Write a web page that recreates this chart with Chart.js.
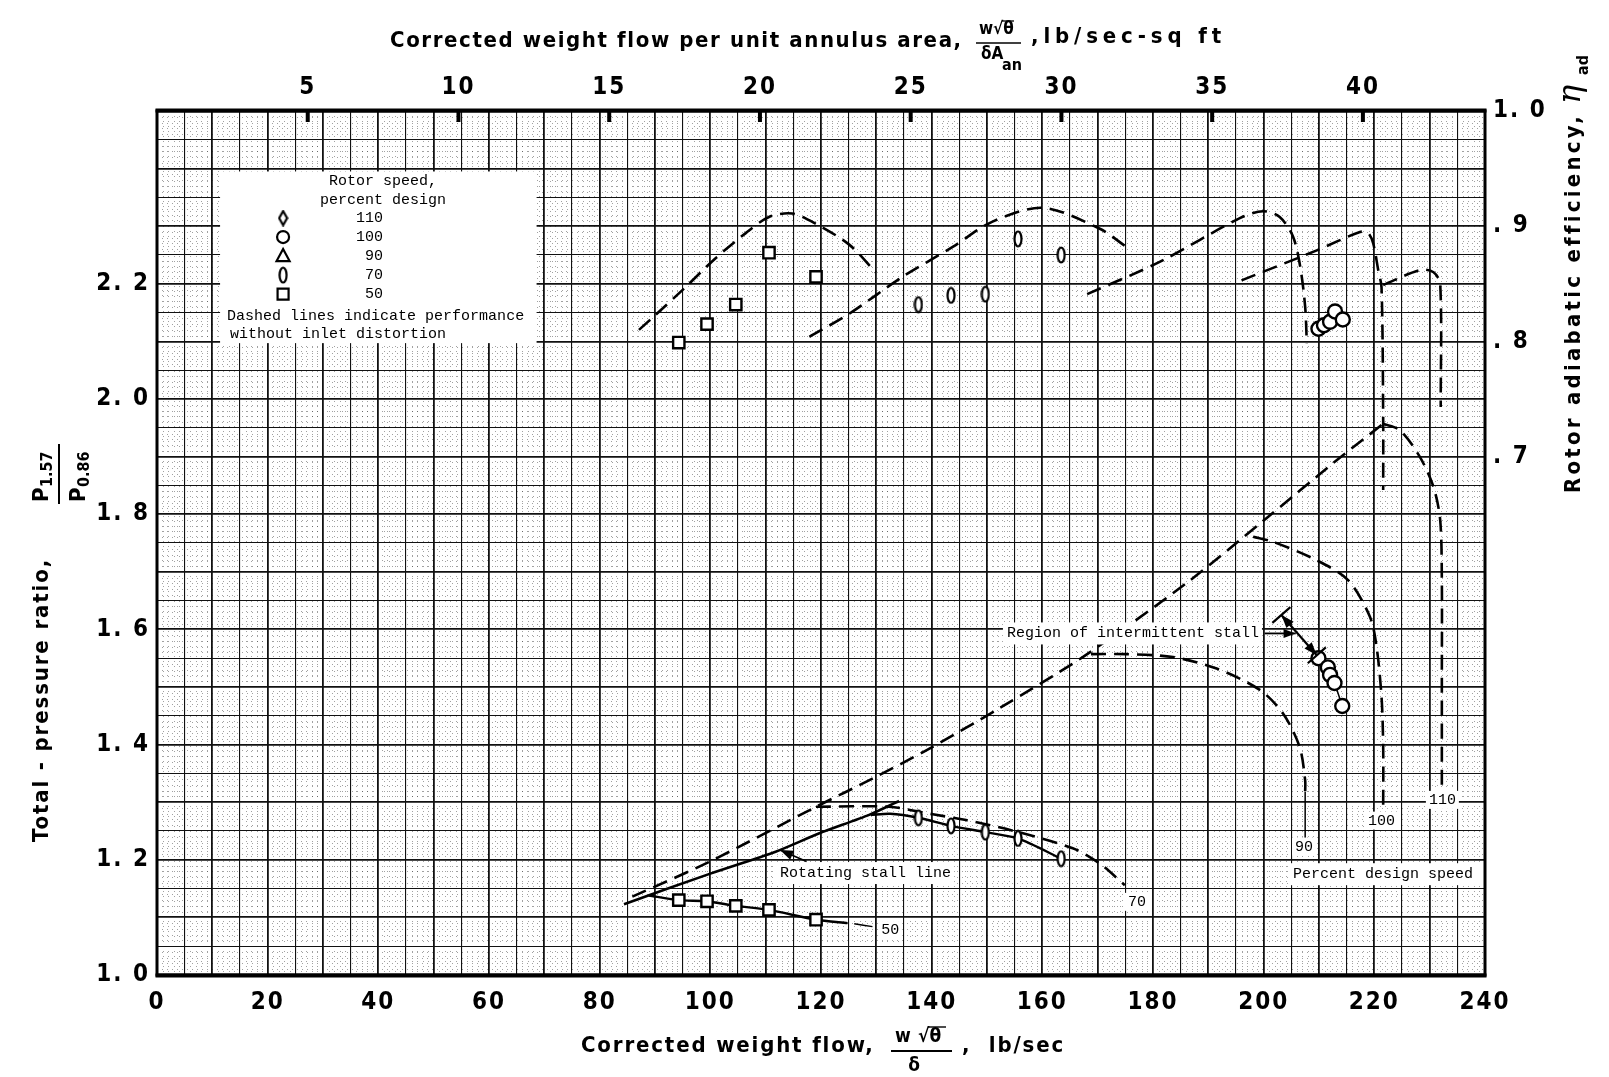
<!DOCTYPE html>
<html>
<head>
<meta charset="utf-8">
<title>Rotor performance with inlet distortion</title>
<script src="https://cdn.jsdelivr.net/npm/chart.js@4.4.1/dist/chart.umd.min.js"></script>
<style>
  html, body { margin: 0; padding: 0; background: #fff; }
  canvas { display: block; }
</style>
</head>
<body>
<canvas id="perf" width="1609" height="1077"></canvas>
<script>
// tick labels
const flowTicks = [0, 20, 40, 60, 80, 100, 120, 140, 160, 180, 200, 220, 240];
const ratioTicks = [1.0, 1.2, 1.4, 1.6, 1.8, 2.0, 2.2];
const effTicks = [0.7, 0.8, 0.9, 1.0];
const areaFlowTicks = [5, 10, 15, 20, 25, 30, 35, 40];
const areaFlowMax = 44.05; // upper scale value at 240 lb/sec

// 50 percent speed (with distortion)
const flow50 = [94.3, 99.4, 104.6, 110.6, 119.1];
const ratio50 = [1.130, 1.128, 1.120, 1.113, 1.096];
const eff50 = [0.799, 0.815, 0.832, 0.877, 0.856];
const line50Flow = [88.9, 94.3, 99.4, 104.6, 110.6, 119.1, 124.8];
const line50Ratio = [1.138, 1.130, 1.128, 1.120, 1.113, 1.096, 1.090];

// 70 percent speed
const flow70 = [137.6, 143.5, 149.7, 155.6, 163.4];
const ratio70 = [1.273, 1.259, 1.248, 1.237, 1.202];
const eff70 = [0.832, 0.840, 0.841, 0.889, 0.875];
const line70Flow = [129.0, 132.5, 137.6, 143.5, 149.7, 155.6, 163.4];
const line70Ratio = [1.278, 1.280, 1.273, 1.259, 1.248, 1.237, 1.202];

// 100 percent speed
const flow100 = [209.9, 211.6, 212.0, 212.8, 214.2];
const ratio100 = [1.550, 1.534, 1.521, 1.507, 1.467];
const flow100Eff = [209.9, 210.9, 212.0, 212.9, 214.3];
const eff100 = [0.811, 0.814, 0.817, 0.826, 0.819];

// rotating stall line
const stallFlow = [84.4, 100.0, 111.8, 119.7, 128.7, 134.1];
const stallRatio = [1.123, 1.176, 1.214, 1.246, 1.278, 1.302];

// dashed: without inlet distortion, pressure ratio
const cleanStallFlow = [85.9, 99.7, 119.1, 129.3, 139.6, 152.2, 167.3, 186.0, 200.5, 212.6, 221.6];
const cleanStallRatio = [1.136, 1.196, 1.292, 1.341, 1.393, 1.463, 1.552, 1.680, 1.793, 1.889, 1.957];
const clean70Flow = [119.1, 132.3, 140.2, 146.2, 155.3, 165.5, 170.3, 174.9];
const clean70Ratio = [1.292, 1.292, 1.279, 1.269, 1.249, 1.220, 1.194, 1.156];
const clean90Flow = [168.8, 175.2, 183.6, 191.5, 199.3, 203.5, 206.5, 207.5, 207.5];
const clean90Ratio = [1.557, 1.557, 1.552, 1.532, 1.495, 1.454, 1.396, 1.338, 1.318];
const clean100Flow = [198.1, 201.7, 209.6, 215.3, 219.2, 220.4, 221.3, 221.6, 221.6];
const clean100Ratio = [1.761, 1.752, 1.720, 1.685, 1.622, 1.570, 1.483, 1.396, 1.290];
const clean110Flow = [221.6, 224.6, 228.2, 230.7, 231.9, 232.2, 232.2, 232.2];
const clean110Ratio = [1.957, 1.946, 1.900, 1.847, 1.790, 1.685, 1.512, 1.322];

// dashed: without inlet distortion, efficiency
const cleanEff50Flow = [87.1, 90.1, 95.5, 100.9, 106.4, 110.6, 114.8, 119.1, 125.1, 129.9];
const cleanEff50 = [0.810, 0.823, 0.847, 0.872, 0.894, 0.908, 0.911, 0.902, 0.884, 0.860];
const cleanEff70Flow = [117.9, 125.1, 134.7, 143.8, 151.0, 160.1, 170.3, 175.2];
const cleanEff70 = [0.804, 0.824, 0.856, 0.882, 0.904, 0.916, 0.898, 0.882];
const cleanEff90Flow = [168.1, 181.2, 195.7, 199.9, 202.9, 205.3, 206.6, 207.5, 207.8];
const cleanEff90 = [0.841, 0.869, 0.907, 0.913, 0.908, 0.891, 0.865, 0.830, 0.798];
const cleanEff100Flow = [196.0, 209.6, 217.4, 218.9, 219.8, 220.7, 221.3, 221.6, 221.6];
const cleanEff100 = [0.853, 0.879, 0.895, 0.894, 0.885, 0.862, 0.847, 0.732, 0.671];
const cleanEff110Flow = [221.6, 228.3, 230.7, 231.9, 232.0];
const cleanEff110 = [0.849, 0.862, 0.860, 0.850, 0.743];

// leader lines to the speed labels
const leader50Flow = [126.0, 129.3];
const leader50Ratio = [1.089, 1.084];
const leader90Flow = [207.5, 207.5];
const leader90Ratio = [1.318, 1.238];

// speed labels on the curves
const curveLabels = ['50', '70', '90', '100', '110'];
const curveLabelFlow = [132.5, 177.1, 207.3, 221.3, 232.3];
const curveLabelRatio = [1.078, 1.127, 1.223, 1.268, 1.304];

// notes
const noteText = ['Rotating stall line', 'Region of intermittent stall', 'Percent design speed'];
const noteFlow = [112.6, 153.6, 205.3];
const noteRatio = [1.177, 1.593, 1.175];
const stallArrowFlow = [117.4, 112.6];
const stallArrowRatio = [1.197, 1.217];
const noteArrowFlow = [200.2, 205.8];
const noteArrowRatio = [1.593, 1.593];
const spanFlow = [203.2, 209.6];
const spanRatio = [1.625, 1.555];

// legend
const legendSpeeds = ['110', '100', '90', '70', '50'];
const legendBoxFlow = [11.4, 68.6];
const legendBoxRatio = [2.395, 2.097];

const tickFont = '"Liberation Sans Narrow", "DejaVu Sans Condensed", "DejaVu Sans", sans-serif';
const monoFont = '"Liberation Mono", "DejaVu Sans Mono", monospace';
const titleFont = 'bold 22px ' + tickFont;

const pts = (xs, ys) => xs.map((x, i) => ({ x: x, y: ys[i] }));

function makeMarker(draw, w, h) {
    const c = document.createElement('canvas');
    c.width = w; c.height = h;
    const g = c.getContext('2d');
    g.strokeStyle = '#000'; g.fillStyle = '#fff'; g.lineWidth = 2.2;
    draw(g, w, h);
    return c;
}
const ellipseMark = makeMarker((g, w, h) => {
    g.beginPath(); g.ellipse(w / 2, h / 2, w / 2 - 1.5, h / 2 - 1.5, 0, 0, 2 * Math.PI); g.fill(); g.stroke();
}, 10, 18);
const diamondMark = makeMarker((g, w, h) => {
    g.beginPath(); g.moveTo(w / 2, 1.5); g.lineTo(w - 1.5, h / 2); g.lineTo(w / 2, h - 1.5); g.lineTo(1.5, h / 2);
    g.closePath(); g.fill(); g.stroke();
}, 11, 17);

function dashed(xs, ys, axis) {
    return { data: pts(xs, ys), yAxisID: axis, showLine: true, borderColor: '#000', borderWidth: 2.6,
        borderDash: [15, 8], pointRadius: 0, tension: 0.3, order: 2 };
}
function solid(xs, ys, w) {
    return { data: pts(xs, ys), yAxisID: 'y', showLine: true, borderColor: '#000', borderWidth: w || 2.4,
        pointRadius: 0, tension: 0.25, order: 2 };
}
function marks(xs, ys, axis, style, r) {
    return { data: pts(xs, ys), yAxisID: axis, showLine: false, pointStyle: style, pointRadius: r,
        pointBackgroundColor: '#fff', pointBorderColor: '#000', pointBorderWidth: 2.4, order: 1 };
}

function fitText(ctx, text, x, y, width, font) {
    ctx.font = font;
    ctx.letterSpacing = '0px';
    const w = ctx.measureText(text).width;
    ctx.letterSpacing = ((width - w) / text.length) + 'px';
    ctx.textAlign = 'left';
    ctx.fillText(text, x, y);
    ctx.letterSpacing = '0px';
}

function arrowHead(ctx, x1, y1, x2, y2, size) {
    const a = Math.atan2(y2 - y1, x2 - x1);
    ctx.beginPath();
    ctx.moveTo(x2, y2);
    ctx.lineTo(x2 - size * Math.cos(a - 0.35), y2 - size * Math.sin(a - 0.35));
    ctx.lineTo(x2 - size * Math.cos(a + 0.35), y2 - size * Math.sin(a + 0.35));
    ctx.closePath();
    ctx.fill();
}

function symbol(ctx, kind, x, y) {
    ctx.save();
    ctx.fillStyle = '#fff'; ctx.strokeStyle = '#000'; ctx.lineWidth = 2.2;
    ctx.beginPath();
    if (kind === '110') { ctx.drawImage(diamondMark, x - 5.5, y - 8.5); ctx.restore(); return; }
    if (kind === '70') { ctx.drawImage(ellipseMark, x - 5, y - 9); ctx.restore(); return; }
    if (kind === '100') ctx.arc(x, y, 6, 0, 2 * Math.PI);
    if (kind === '90') { ctx.moveTo(x, y - 7); ctx.lineTo(x + 6.5, y + 5); ctx.lineTo(x - 6.5, y + 5); ctx.closePath(); }
    if (kind === '50') ctx.rect(x - 5.5, y - 5.5, 11, 11);
    ctx.fill(); ctx.stroke();
    ctx.restore();
}

const paper = {
    id: 'paper',
    beforeDraw(chart) {
        const { ctx, chartArea: a, scales } = chart;
        ctx.save();
        ctx.fillStyle = '#fff';
        ctx.fillRect(0, 0, chart.width, chart.height);
        // fine dotted ruling of the graph paper
        ctx.strokeStyle = 'rgba(30,30,30,0.42)';
        ctx.lineWidth = 1;
        ctx.setLineDash([1, 4]);
        ctx.beginPath();
        for (let v = 1; v < 240; v++) {
            if (v % 5 === 0) continue;
            const x = Math.round(scales.x.getPixelForValue(v)) + 0.5;
            ctx.moveTo(x, a.top); ctx.lineTo(x, a.bottom);
        }
        for (let k = 101; k < 250; k++) {
            if (k % 5 === 0) continue;
            const y = Math.round(scales.y.getPixelForValue(k / 100)) + 0.5;
            ctx.moveTo(a.left, y); ctx.lineTo(a.right, y);
        }
        ctx.stroke();
        ctx.restore();
        ctx.letterSpacing = '2px';
    },
    beforeDatasetsDraw(chart) {
        const { ctx, scales: { x, y } } = chart;
        const L = x.getPixelForValue(legendBoxFlow[0]), R = x.getPixelForValue(legendBoxFlow[1]);
        const T = y.getPixelForValue(legendBoxRatio[0]), B = y.getPixelForValue(legendBoxRatio[1]);
        ctx.save();
        ctx.letterSpacing = '0px';
        ctx.fillStyle = '#fff';
        ctx.fillRect(L, T, R - L, B - T);
        ctx.fillStyle = '#000';
        ctx.font = '15px ' + monoFont;
        ctx.textBaseline = 'middle';
        ctx.textAlign = 'center';
        ctx.fillText('Rotor speed,', L + 163, T + 10);
        ctx.fillText('percent design', L + 163, T + 29);
        legendSpeeds.forEach((s, i) => {
            const yy = T + 46.6 + i * 19;
            symbol(ctx, s, L + 63, yy);
            ctx.fillStyle = '#000';
            ctx.textAlign = 'right';
            ctx.fillText(s, L + 163, yy);
        });
        ctx.textAlign = 'left';
        ctx.fillText('Dashed lines indicate performance', L + 7, T + 145);
        ctx.fillText('without inlet distortion', L + 10, T + 163);
        ctx.restore();
    },
    afterDatasetsDraw(chart) {
        const { ctx, chartArea: a, scales: { x, y, x2 } } = chart;
        ctx.save();
        ctx.letterSpacing = '0px';
        ctx.font = '15px ' + monoFont;
        ctx.textBaseline = 'middle';

        // speed labels
        ctx.textAlign = 'center';
        curveLabels.forEach((s, i) => {
            const px = x.getPixelForValue(curveLabelFlow[i]), py = y.getPixelForValue(curveLabelRatio[i]);
            const w = ctx.measureText(s).width;
            ctx.fillStyle = '#fff';
            ctx.fillRect(px - w / 2 - 3, py - 9, w + 6, 18);
            ctx.fillStyle = '#000';
            ctx.fillText(s, px, py);
        });

        // notes
        ctx.textAlign = 'left';
        noteText.forEach((s, i) => {
            const px = x.getPixelForValue(noteFlow[i]), py = y.getPixelForValue(noteRatio[i]);
            const w = i === 2 ? a.right - px - 1 : ctx.measureText(s).width + 3;
            ctx.fillStyle = '#fff';
            ctx.fillRect(px - 4, py - 11, w + 4, 22);
            ctx.fillStyle = '#000';
            ctx.fillText(s, px, py);
        });

        // arrows
        ctx.strokeStyle = '#000';
        ctx.fillStyle = '#000';
        ctx.lineWidth = 1.8;
        const ax1 = x.getPixelForValue(stallArrowFlow[0]), ay1 = y.getPixelForValue(stallArrowRatio[0]);
        const ax2 = x.getPixelForValue(stallArrowFlow[1]), ay2 = y.getPixelForValue(stallArrowRatio[1]);
        ctx.beginPath(); ctx.moveTo(ax1, ay1); ctx.lineTo(ax2, ay2); ctx.stroke();
        arrowHead(ctx, ax1, ay1, ax2, ay2, 14);

        const bx1 = x.getPixelForValue(noteArrowFlow[0]), by1 = y.getPixelForValue(noteArrowRatio[0]);
        const bx2 = x.getPixelForValue(noteArrowFlow[1]), by2 = y.getPixelForValue(noteArrowRatio[1]);
        ctx.beginPath(); ctx.moveTo(bx1, by1); ctx.lineTo(bx2, by2); ctx.stroke();
        arrowHead(ctx, bx1, by1, bx2, by2, 13);

        const sx1 = x.getPixelForValue(spanFlow[0]), sy1 = y.getPixelForValue(spanRatio[0]);
        const sx2 = x.getPixelForValue(spanFlow[1]), sy2 = y.getPixelForValue(spanRatio[1]);
        ctx.lineWidth = 2.2;
        ctx.beginPath(); ctx.moveTo(sx1, sy1); ctx.lineTo(sx2, sy2); ctx.stroke();
        arrowHead(ctx, sx2, sy2, sx1, sy1, 14);
        arrowHead(ctx, sx1, sy1, sx2, sy2, 14);
        const ang = Math.atan2(sy2 - sy1, sx2 - sx1) + Math.PI / 2;
        [[sx1, sy1], [sx2, sy2]].forEach(([px, py]) => {
            ctx.beginPath();
            ctx.moveTo(px - 12 * Math.cos(ang), py - 12 * Math.sin(ang));
            ctx.lineTo(px + 12 * Math.cos(ang), py + 12 * Math.sin(ang));
            ctx.stroke();
        });

        // frame and upper-scale tick marks
        ctx.lineWidth = 3;
        ctx.strokeRect(a.left, a.top, a.right - a.left, a.bottom - a.top);
        ctx.fillRect(a.left - 1.5, a.top - 2.5, a.right - a.left + 3, 4);
        ctx.fillRect(a.left - 1.5, a.bottom - 1.5, a.right - a.left + 3, 4);
        areaFlowTicks.forEach(v => {
            const px = x2.getPixelForValue(v);
            ctx.fillRect(px - 2, a.top, 4, 11);
        });
        ctx.restore();
    },
    afterDraw(chart) {
        const { ctx } = chart;
        ctx.save();
        ctx.fillStyle = '#000';
        ctx.strokeStyle = '#000';
        ctx.textBaseline = 'middle';

        // upper title
        fitText(ctx, 'Corrected weight flow per unit annulus area,', 390, 41, 572, titleFont);
        ctx.font = 'bold 17px ' + tickFont;
        ctx.textAlign = 'left';
        ctx.fillText('w', 979, 30);
        ctx.fillText('\u221a\u03b8', 993, 30);
        ctx.lineWidth = 1.3;
        ctx.beginPath(); ctx.moveTo(1002, 21); ctx.lineTo(1014, 21); ctx.stroke();
        ctx.beginPath(); ctx.moveTo(976, 43); ctx.lineTo(1021, 43); ctx.stroke();
        ctx.fillText('\u03b4A', 981, 55);
        ctx.font = 'bold 16px ' + tickFont;
        ctx.fillText('an', 1002, 66);
        fitText(ctx, ',lb/sec-sq ft', 1031, 37, 195, titleFont);

        // lower title
        fitText(ctx, 'Corrected weight flow,', 581, 1046, 293, titleFont);
        ctx.font = 'bold 19px ' + tickFont;
        ctx.textAlign = 'left';
        ctx.fillText('w', 895, 1037);
        ctx.fillText('\u221a\u03b8', 918, 1037);
        ctx.lineWidth = 1.4;
        ctx.beginPath(); ctx.moveTo(928, 1027); ctx.lineTo(946, 1027); ctx.stroke();
        ctx.lineWidth = 2;
        ctx.beginPath(); ctx.moveTo(891, 1051); ctx.lineTo(952, 1051); ctx.stroke();
        ctx.textAlign = 'center';
        ctx.fillText('\u03b4', 914, 1066);
        fitText(ctx, ',  lb/sec', 962, 1046, 103, titleFont);

        // left title
        ctx.save();
        ctx.translate(42, 842);
        ctx.rotate(-Math.PI / 2);
        fitText(ctx, 'Total - pressure ratio,', 0, 0, 284, titleFont);
        ctx.font = 'bold 22px ' + tickFont;
        ctx.textAlign = 'left';
        ctx.fillText('P', 340, 0);
        ctx.fillText('P', 340, 37);
        ctx.font = 'bold 16px ' + tickFont;
        ctx.fillText('1.57', 355, 6);
        ctx.fillText('0.86', 355, 43);
        ctx.lineWidth = 2;
        ctx.beginPath(); ctx.moveTo(338, 17); ctx.lineTo(398, 17); ctx.stroke();
        ctx.restore();

        // right title
        ctx.save();
        ctx.translate(1574, 493);
        ctx.rotate(-Math.PI / 2);
        fitText(ctx, 'Rotor adiabatic efficiency,', 0, 0, 378, titleFont);
        ctx.font = 'italic 32px "DejaVu Serif", serif';
        ctx.textAlign = 'left';
        ctx.fillText('\u03b7', 389, -2);
        ctx.font = 'bold 16px ' + tickFont;
        ctx.fillText('ad', 418, 10);
        ctx.restore();

        ctx.restore();
    }
};

const tickStyle = { family: tickFont, size: 24, weight: 'bold' };
const gridLine = (major) => (c) => (c.tick && major(c.tick.value)) ? 1.8 : 1.1;

new Chart(document.getElementById('perf'), {
    type: 'scatter',
    data: {
        datasets: [
            marks(flow50, ratio50, 'y', 'rect', 8),
            marks(flow70, ratio70, 'y', ellipseMark, 6),
            marks(flow100, ratio100, 'y', 'circle', 7),
            marks(flow50, eff50, 'y2', 'rect', 8),
            marks(flow70, eff70, 'y2', ellipseMark, 6),
            marks(flow100Eff, eff100, 'y2', 'circle', 7),
            solid(line50Flow, line50Ratio),
            solid(leader50Flow, leader50Ratio, 1.5),
            solid(line70Flow, line70Ratio),
            solid(flow100, ratio100, 1.5),
            solid(stallFlow, stallRatio, 2.6),
            solid(leader90Flow, leader90Ratio, 1.5),
            dashed(cleanStallFlow, cleanStallRatio, 'y'),
            dashed(clean70Flow, clean70Ratio, 'y'),
            dashed(clean90Flow, clean90Ratio, 'y'),
            dashed(clean100Flow, clean100Ratio, 'y'),
            dashed(clean110Flow, clean110Ratio, 'y'),
            dashed(cleanEff50Flow, cleanEff50, 'y2'),
            dashed(cleanEff70Flow, cleanEff70, 'y2'),
            dashed(cleanEff90Flow, cleanEff90, 'y2'),
            dashed(cleanEff100Flow, cleanEff100, 'y2'),
            dashed(cleanEff110Flow, cleanEff110, 'y2')
        ]
    },
    options: {
        responsive: false,
        animation: false,
        devicePixelRatio: 1,
        layout: { padding: 0 },
        plugins: { legend: { display: false }, tooltip: { enabled: false } },
        scales: {
            x: {
                type: 'linear', position: 'bottom', min: 0, max: 240,
                afterFit: s => { s.height = 102; },
                border: { display: false },
                grid: { color: '#111', drawTicks: false, lineWidth: gridLine(v => Math.round(v) % 10 === 0) },
                ticks: { stepSize: 5, autoSkip: false, maxRotation: 0, padding: 13, color: '#000', font: tickStyle,
                    callback: v => flowTicks.includes(v) ? String(v) : '' }
            },
            x2: {
                type: 'linear', position: 'top', min: 0, max: areaFlowMax,
                afterFit: s => { s.height = 111; },
                border: { display: false },
                grid: { drawOnChartArea: false, drawTicks: false },
                ticks: { stepSize: 5, autoSkip: false, maxRotation: 0, padding: 9, color: '#000', font: tickStyle,
                    callback: v => areaFlowTicks.includes(v) ? String(v) : '' }
            },
            y: {
                type: 'linear', position: 'left', min: 1.0, max: 2.5,
                afterFit: s => { s.width = 157; },
                border: { display: false },
                grid: { color: '#111', drawTicks: false, lineWidth: gridLine(v => Math.round(v * 100) % 10 === 0) },
                ticks: { stepSize: 0.05, autoSkip: false, padding: 7, color: '#000', font: tickStyle,
                    callback: v => ratioTicks.some(t => Math.abs(t - v) < 1e-6) ? v.toFixed(1).replace('.', '. ') : '' }
            },
            y2: {
                type: 'linear', position: 'right', min: 0.25, max: 1.0,
                afterFit: s => { s.width = 124; },
                border: { display: false },
                grid: { drawOnChartArea: false, drawTicks: false },
                ticks: { stepSize: 0.05, autoSkip: false, padding: 8, color: '#000', font: tickStyle,
                    callback: v => effTicks.some(t => Math.abs(t - v) < 1e-6) ? (v > 0.99 ? '1. 0' : '. ' + Math.round(v * 10)) : '' }
            }
        }
    },
    plugins: [paper]
});
</script>
</body>
</html>
